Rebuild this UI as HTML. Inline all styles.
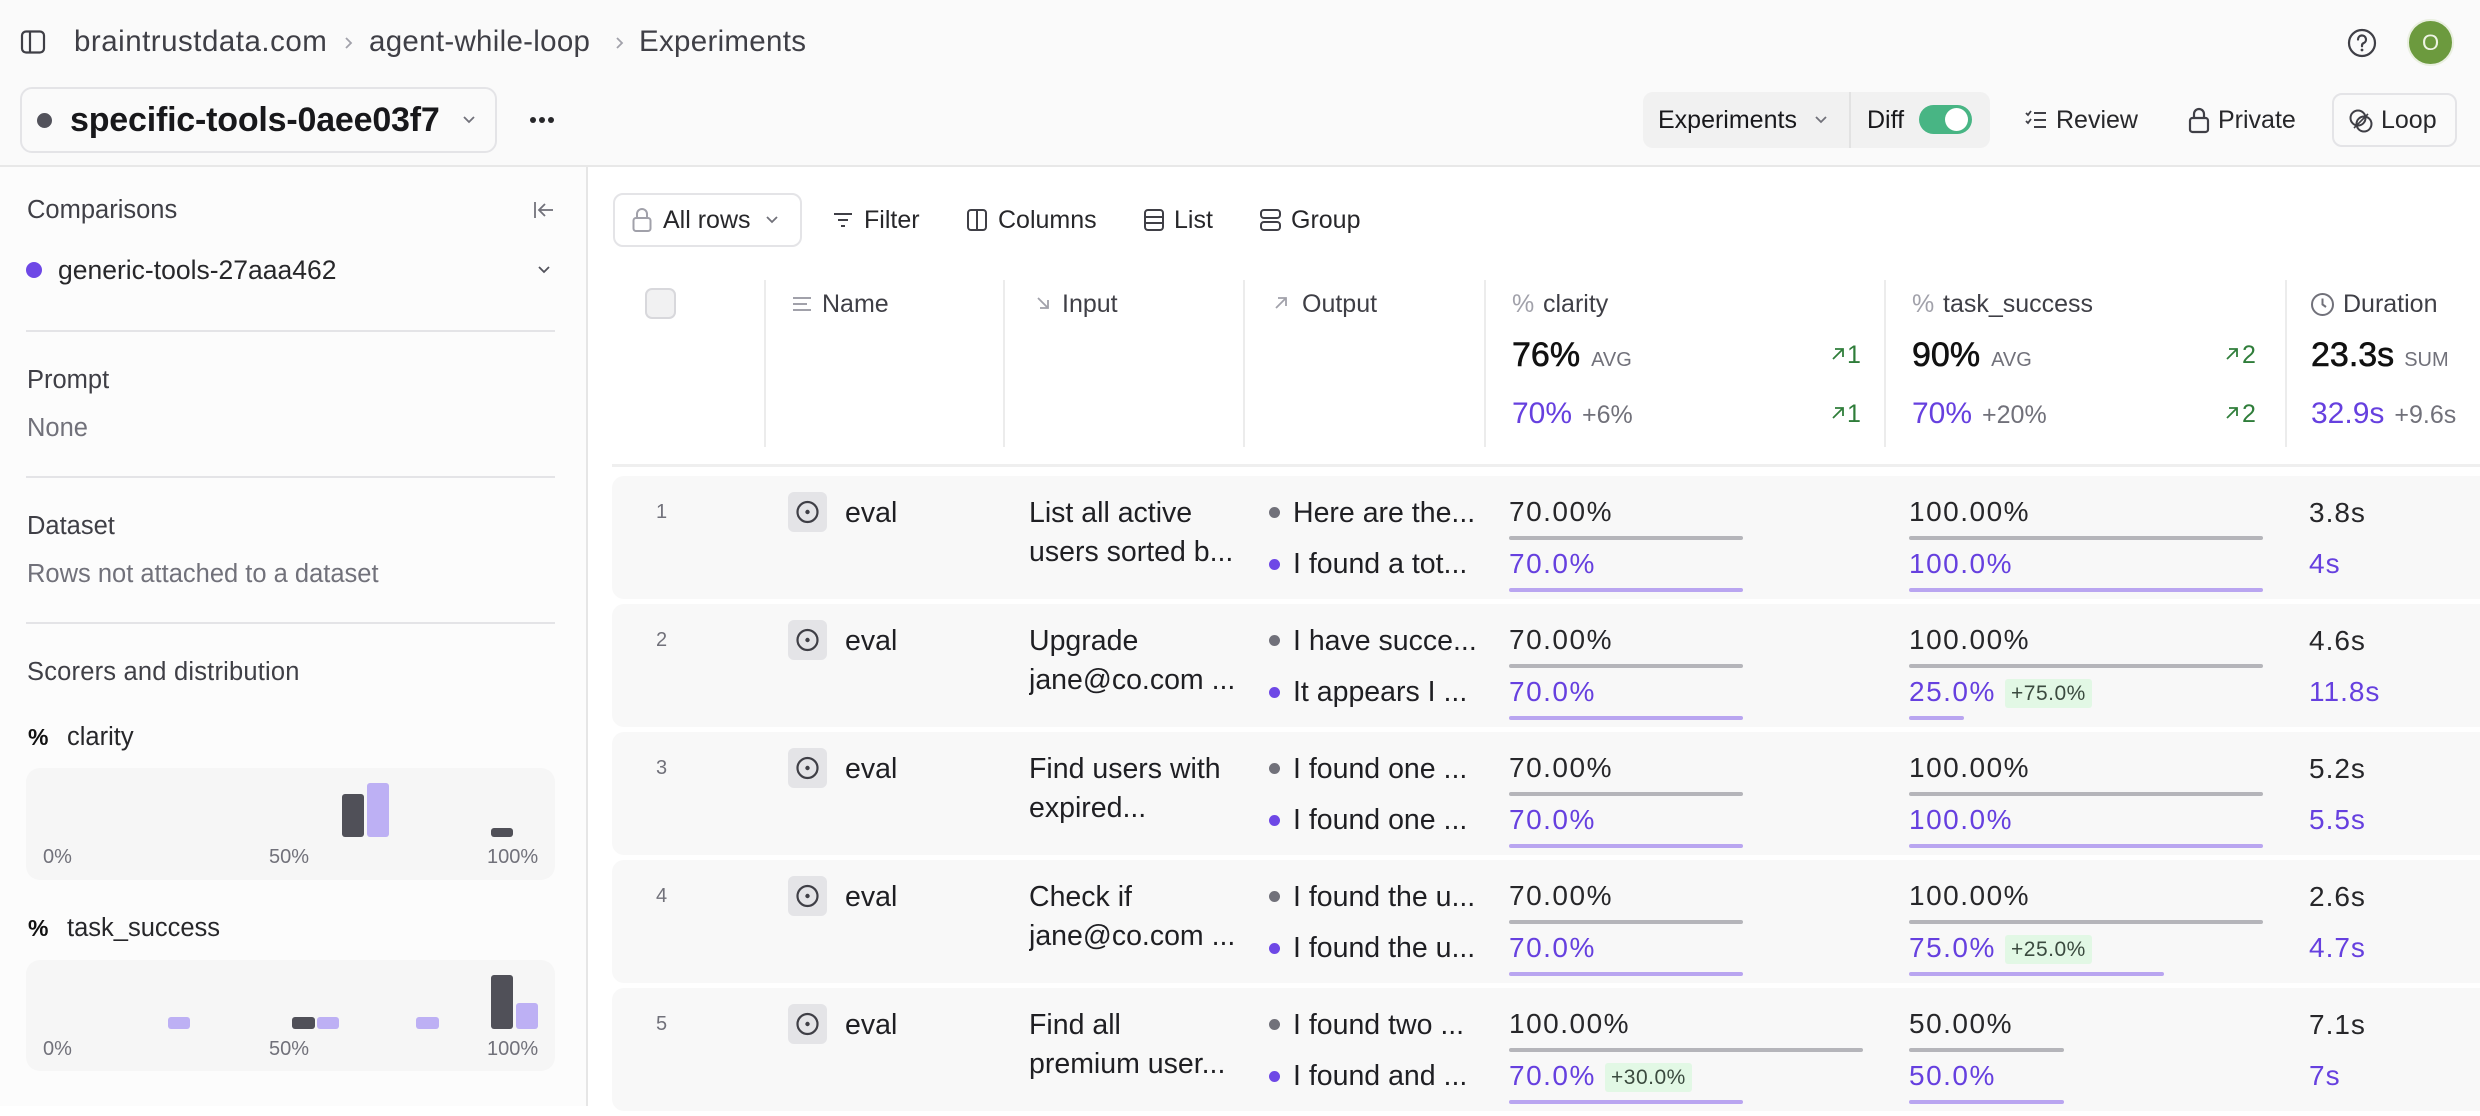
<!DOCTYPE html>
<html><head><meta charset="utf-8">
<style>
*{margin:0;padding:0;box-sizing:border-box}
html,body{width:2480px;height:1106px;overflow:hidden;background:#fff;font-family:"Liberation Sans",Arial,sans-serif;color:#27272a}
.a{position:absolute;white-space:nowrap}
.t40{line-height:40px;height:40px}
.row{position:absolute;left:0;width:2480px;height:128px}
.card{position:absolute;left:612px;top:0;width:1900px;height:123px;background:#f8f8f8;border-radius:12px}
.num{font-size:20px;color:#71717a;line-height:32px;top:20px;left:656px}
.evb{left:788px;top:16px;width:39px;height:40px;background:#e4e4e7;border-radius:6px}
.rt{font-size:28.5px;color:#1f1f23;line-height:40px}
.inp{left:1029px;width:212px;overflow:hidden}
.out{left:1293px;width:188px;overflow:hidden}
.dot{width:11px;height:11px;border-radius:50%;left:1269px}
.dg{background:#71717a}.dp{background:#6e48e6}
.sc{font-size:28px;letter-spacing:1.5px;line-height:40px;color:#27272a}
.pu{color:#6640df}
.bar{height:4px;border-radius:2px}
.bg{background:#b5b5ba}.bp{background:#b9a5f0}
.badge{height:29px;top:75px;background:#e2f8e5;color:#3b4a3f;font-size:21px;line-height:29px;padding:0 6px;border-radius:3px;letter-spacing:0.5px}
.sb{font-size:25.5px;color:#3f3f46;line-height:40px}
.sg{color:#71717a}
.hl{font-size:25px;color:#3f3f46;line-height:40px;top:284px}
.vd{position:absolute;top:280px;width:2px;height:167px;background:#ececec}
.hist{position:absolute;background:#f6f6f6;border-radius:14px}
.hb{position:absolute;border-radius:3px}
.hd{background:#505058}.hp{background:#bdb0f4}
.hx{font-size:20px;color:#71717a;line-height:28px}
.tb{font-size:25px;color:#27272a;line-height:40px;top:200px}
.bc{font-size:29.5px;color:#3f3f46;letter-spacing:0.5px}
</style></head><body>

<!-- top bar -->
<div class="a" style="left:0;top:0;width:2480px;height:166px;background:#fafafa"></div>
<div class="a" style="left:0;top:165px;width:2480px;height:2px;background:#e8e8e8"></div>

<svg class="a" style="left:20px;top:29px" width="27" height="27" viewBox="0 0 27 27"><rect x="2" y="2.5" width="22" height="21" rx="4" fill="none" stroke="#3f3f46" stroke-width="2.2"/><line x1="10" y1="3" x2="10" y2="23" stroke="#3f3f46" stroke-width="2.2"/></svg>
<div class="a t40 bc" style="left:74px;top:22px">braintrustdata.com</div>
<svg class="a" style="left:343px;top:36px" width="10" height="14" viewBox="0 0 10 14"><polyline points="3,2 8,7 3,12" fill="none" stroke="#a1a1aa" stroke-width="1.8"/></svg>
<div class="a t40 bc" style="left:369px;top:22px;letter-spacing:0.3px">agent-while-loop</div>
<svg class="a" style="left:614px;top:36px" width="10" height="14" viewBox="0 0 10 14"><polyline points="3,2 8,7 3,12" fill="none" stroke="#a1a1aa" stroke-width="1.8"/></svg>
<div class="a t40 bc" style="left:639px;top:22px;letter-spacing:0.3px">Experiments</div>

<svg class="a" style="left:2346px;top:27px" width="32" height="32" viewBox="0 0 32 32"><circle cx="16" cy="16" r="13" fill="none" stroke="#3f3f46" stroke-width="2.2"/><path d="M12 12.5a4 4 0 1 1 5.5 3.7c-1 .4-1.5 1.2-1.5 2.3v.8" fill="none" stroke="#3f3f46" stroke-width="2.2" stroke-linecap="round"/><circle cx="16" cy="23" r="1.4" fill="#3f3f46"/></svg>
<div class="a" style="left:2407px;top:19px;width:47px;height:47px;border-radius:50%;background:#6c9a3e;border:2px solid #e9efe0;color:#eef4e4;font-size:22px;line-height:43px;text-align:center">O</div>

<!-- title selector -->
<div class="a" style="left:20px;top:87px;width:477px;height:66px;border:2px solid #e4e4e7;border-radius:12px;background:#fafafa"></div>
<div class="a" style="left:37px;top:113px;width:15px;height:15px;border-radius:50%;background:#52525b"></div>
<div class="a t40" style="left:70px;top:100px;font-size:34px;font-weight:bold;color:#18181b;letter-spacing:-0.2px">specific-tools-0aee03f7</div>
<svg class="a" style="left:462px;top:114px" width="14" height="12" viewBox="0 0 14 12"><polyline points="2,3 7,8 12,3" fill="none" stroke="#71717a" stroke-width="1.8"/></svg>
<div class="a" style="left:530px;top:117px;width:6px;height:6px;border-radius:50%;background:#27272a"></div>
<div class="a" style="left:539px;top:117px;width:6px;height:6px;border-radius:50%;background:#27272a"></div>
<div class="a" style="left:548px;top:117px;width:6px;height:6px;border-radius:50%;background:#27272a"></div>

<!-- right controls -->
<div class="a" style="left:1643px;top:92px;width:347px;height:56px;background:#f1f1f1;border-radius:10px"></div>
<div class="a" style="left:1849px;top:92px;width:2px;height:56px;background:#e2e2e2"></div>
<div class="a t40" style="left:1658px;top:100px;font-size:25px;color:#18181b">Experiments</div>
<svg class="a" style="left:1814px;top:114px" width="14" height="12" viewBox="0 0 14 12"><polyline points="2,3 7,8 12,3" fill="none" stroke="#71717a" stroke-width="1.8"/></svg>
<div class="a t40" style="left:1867px;top:100px;font-size:25px;color:#18181b">Diff</div>
<div class="a" style="left:1919px;top:105px;width:53px;height:29px;border-radius:15px;background:#48b584"></div>
<div class="a" style="left:1945px;top:108px;width:23px;height:23px;border-radius:50%;background:#fff"></div>
<svg class="a" style="left:2024px;top:108px" width="24" height="24" viewBox="0 0 24 24"><polyline points="2,5 4,7 7,3" fill="none" stroke="#3f3f46" stroke-width="1.8"/><polyline points="2,13 4,15 7,11" fill="none" stroke="#3f3f46" stroke-width="1.8"/><line x1="10" y1="5" x2="22" y2="5" stroke="#3f3f46" stroke-width="2"/><line x1="10" y1="12" x2="22" y2="12" stroke="#3f3f46" stroke-width="2"/><line x1="10" y1="19" x2="22" y2="19" stroke="#3f3f46" stroke-width="2"/></svg>
<div class="a t40" style="left:2056px;top:100px;font-size:25px;color:#27272a">Review</div>
<svg class="a" style="left:2187px;top:106px" width="24" height="28" viewBox="0 0 24 28"><rect x="3" y="12" width="18" height="14" rx="2.5" fill="none" stroke="#3f3f46" stroke-width="2.2"/><path d="M7 12V8a5 5 0 0 1 10 0v4" fill="none" stroke="#3f3f46" stroke-width="2.2"/></svg>
<div class="a t40" style="left:2218px;top:100px;font-size:25px;color:#27272a">Private</div>
<div class="a" style="left:2332px;top:93px;width:125px;height:54px;border:2px solid #e4e4e7;border-radius:10px;background:#fafafa"></div>
<svg class="a" style="left:2348px;top:108px" width="26" height="26" viewBox="0 0 26 26"><circle cx="10" cy="10" r="7.5" fill="none" stroke="#3f3f46" stroke-width="2"/><circle cx="16" cy="16" r="7.5" fill="none" stroke="#3f3f46" stroke-width="2"/><line x1="6" y1="20" x2="20" y2="6" stroke="#3f3f46" stroke-width="1.6"/></svg>
<div class="a t40" style="left:2381px;top:100px;font-size:25px;color:#27272a">Loop</div>

<!-- sidebar -->
<div class="a" style="left:0;top:167px;width:586px;height:939px;background:#fcfcfc"></div>
<div class="a" style="left:586px;top:167px;width:2px;height:939px;background:#e6e6e6"></div>
<div class="a sb" style="left:27px;top:190px">Comparisons</div>
<svg class="a" style="left:533px;top:200px" width="22" height="20" viewBox="0 0 22 20"><line x1="2" y1="2" x2="2" y2="18" stroke="#71717a" stroke-width="1.8"/><line x1="7" y1="10" x2="20" y2="10" stroke="#71717a" stroke-width="1.8"/><polyline points="12,4 6,10 12,16" fill="none" stroke="#71717a" stroke-width="1.8"/></svg>
<div class="a" style="left:26px;top:262px;width:16px;height:16px;border-radius:50%;background:#6e48e6"></div>
<div class="a sb" style="left:58px;top:250px;color:#27272a;font-size:26.5px">generic-tools-27aaa462</div>
<svg class="a" style="left:537px;top:264px" width="14" height="12" viewBox="0 0 14 12"><polyline points="2,3 7,8 12,3" fill="none" stroke="#52525b" stroke-width="1.8"/></svg>
<div class="a" style="left:26px;top:330px;width:529px;height:2px;background:#e4e4e7"></div>
<div class="a sb" style="left:27px;top:360px">Prompt</div>
<div class="a sb sg" style="left:27px;top:408px">None</div>
<div class="a" style="left:26px;top:476px;width:529px;height:2px;background:#e4e4e7"></div>
<div class="a sb" style="left:27px;top:506px">Dataset</div>
<div class="a sb sg" style="left:27px;top:554px">Rows not attached to a dataset</div>
<div class="a" style="left:26px;top:622px;width:529px;height:2px;background:#e4e4e7"></div>
<div class="a sb" style="left:27px;top:652px;letter-spacing:0.2px">Scorers and distribution</div>

<div class="a sb" style="left:28px;top:717px;color:#111;font-weight:bold;font-size:23px">%</div>
<div class="a sb" style="left:67px;top:717px;color:#27272a">clarity</div>
<div class="hist" style="left:26px;top:768px;width:529px;height:112px"></div>
<div class="hb hd" style="left:342px;top:794px;width:22px;height:43px"></div>
<div class="hb hp" style="left:367px;top:783px;width:22px;height:54px"></div>
<div class="hb hd" style="left:491px;top:828px;width:22px;height:9px"></div>
<div class="a hx" style="left:43px;top:843px">0%</div>
<div class="a hx" style="left:269px;top:843px">50%</div>
<div class="a hx" style="left:487px;top:843px">100%</div>

<div class="a sb" style="left:28px;top:908px;color:#111;font-weight:bold;font-size:23px">%</div>
<div class="a sb" style="left:67px;top:908px;color:#27272a">task_success</div>
<div class="hist" style="left:26px;top:960px;width:529px;height:111px"></div>
<div class="hb hp" style="left:168px;top:1017px;width:22px;height:12px"></div>
<div class="hb hd" style="left:292px;top:1017px;width:23px;height:12px"></div>
<div class="hb hp" style="left:317px;top:1017px;width:22px;height:12px"></div>
<div class="hb hp" style="left:416px;top:1017px;width:23px;height:12px"></div>
<div class="hb hd" style="left:491px;top:975px;width:22px;height:54px"></div>
<div class="hb hp" style="left:516px;top:1003px;width:22px;height:26px"></div>
<div class="a hx" style="left:43px;top:1035px">0%</div>
<div class="a hx" style="left:269px;top:1035px">50%</div>
<div class="a hx" style="left:487px;top:1035px">100%</div>

<!-- toolbar -->
<div class="a" style="left:613px;top:193px;width:189px;height:54px;border:2px solid #e4e4e7;border-radius:10px;background:#fff"></div>
<svg class="a" style="left:631px;top:206px" width="22" height="28" viewBox="0 0 22 28"><rect x="2.5" y="12" width="17" height="13" rx="2.5" fill="none" stroke="#a1a1aa" stroke-width="2"/><path d="M6 12V8a5 5 0 0 1 10 0v4" fill="none" stroke="#a1a1aa" stroke-width="2"/></svg>
<div class="a tb" style="left:663px">All rows</div>
<svg class="a" style="left:765px;top:214px" width="14" height="12" viewBox="0 0 14 12"><polyline points="2,3 7,8 12,3" fill="none" stroke="#71717a" stroke-width="1.8"/></svg>
<svg class="a" style="left:832px;top:210px" width="22" height="20" viewBox="0 0 22 20"><line x1="2" y1="4" x2="20" y2="4" stroke="#3f3f46" stroke-width="2"/><line x1="6" y1="10" x2="16" y2="10" stroke="#3f3f46" stroke-width="2"/><line x1="9" y1="16" x2="13" y2="16" stroke="#3f3f46" stroke-width="2"/></svg>
<div class="a tb" style="left:864px">Filter</div>
<svg class="a" style="left:966px;top:208px" width="22" height="24" viewBox="0 0 22 24"><rect x="2" y="2" width="18" height="20" rx="3" fill="none" stroke="#3f3f46" stroke-width="2"/><line x1="11" y1="2" x2="11" y2="22" stroke="#3f3f46" stroke-width="2"/></svg>
<div class="a tb" style="left:998px">Columns</div>
<svg class="a" style="left:1143px;top:208px" width="22" height="24" viewBox="0 0 22 24"><rect x="2" y="2" width="18" height="20" rx="3" fill="none" stroke="#3f3f46" stroke-width="2"/><line x1="2" y1="9" x2="20" y2="9" stroke="#3f3f46" stroke-width="2"/><line x1="2" y1="15" x2="20" y2="15" stroke="#3f3f46" stroke-width="2"/></svg>
<div class="a tb" style="left:1174px">List</div>
<svg class="a" style="left:1259px;top:208px" width="23" height="24" viewBox="0 0 23 24"><rect x="2" y="2" width="19" height="8" rx="3" fill="none" stroke="#3f3f46" stroke-width="2"/><rect x="2" y="14" width="19" height="8" rx="3" fill="none" stroke="#3f3f46" stroke-width="2"/></svg>
<div class="a tb" style="left:1291px">Group</div>

<!-- table header -->
<div class="a" style="left:645px;top:288px;width:31px;height:31px;border-radius:7px;background:#f1f1f2;border:2px solid #d8d8dc"></div>
<div class="vd" style="left:764px"></div>
<div class="vd" style="left:1003px"></div>
<div class="vd" style="left:1243px"></div>
<div class="vd" style="left:1484px"></div>
<div class="vd" style="left:1884px"></div>
<div class="vd" style="left:2285px"></div>
<svg class="a" style="left:791px;top:294px" width="22" height="20" viewBox="0 0 22 20"><line x1="2" y1="4" x2="20" y2="4" stroke="#a1a1aa" stroke-width="2"/><line x1="2" y1="10" x2="16" y2="10" stroke="#a1a1aa" stroke-width="2"/><line x1="2" y1="16" x2="20" y2="16" stroke="#a1a1aa" stroke-width="2"/></svg>
<div class="a hl" style="left:822px">Name</div>
<svg class="a" style="left:1035px;top:295px" width="16" height="16" viewBox="0 0 16 16"><line x1="3" y1="3" x2="13" y2="13" stroke="#a1a1aa" stroke-width="1.8"/><polyline points="13,5 13,13 5,13" fill="none" stroke="#a1a1aa" stroke-width="1.8"/></svg>
<div class="a hl" style="left:1062px">Input</div>
<svg class="a" style="left:1273px;top:295px" width="16" height="16" viewBox="0 0 16 16"><line x1="3" y1="13" x2="13" y2="3" stroke="#a1a1aa" stroke-width="1.8"/><polyline points="5,3 13,3 13,11" fill="none" stroke="#a1a1aa" stroke-width="1.8"/></svg>
<div class="a hl" style="left:1302px">Output</div>

<div class="a hl" style="left:1512px;color:#a1a1aa">%</div>
<div class="a hl" style="left:1543px">clarity</div>
<div class="a t40" style="left:1512px;top:335px"><span style="font-size:34px;color:#111;-webkit-text-stroke:0.6px #111">76%</span><span style="font-size:20px;color:#71717a;margin-left:11px">AVG</span></div>
<svg class="a" style="left:1831px;top:347px" width="14" height="14" viewBox="0 0 14 14"><line x1="2" y1="12" x2="12" y2="2" stroke="#2f7d3a" stroke-width="1.8"/><polyline points="4,2 12,2 12,10" fill="none" stroke="#2f7d3a" stroke-width="1.8"/></svg>
<div class="a t40" style="left:1847px;top:335px;font-size:25px;color:#2f7d3a">1</div>
<div class="a t40" style="left:1512px;top:394px"><span style="font-size:30px;color:#6640df">70%</span><span style="font-size:25px;color:#71717a;margin-left:10px">+6%</span></div>
<svg class="a" style="left:1831px;top:406px" width="14" height="14" viewBox="0 0 14 14"><line x1="2" y1="12" x2="12" y2="2" stroke="#2f7d3a" stroke-width="1.8"/><polyline points="4,2 12,2 12,10" fill="none" stroke="#2f7d3a" stroke-width="1.8"/></svg>
<div class="a t40" style="left:1847px;top:394px;font-size:25px;color:#2f7d3a">1</div>

<div class="a hl" style="left:1912px;color:#a1a1aa">%</div>
<div class="a hl" style="left:1943px">task_success</div>
<div class="a t40" style="left:1912px;top:335px"><span style="font-size:34px;color:#111;-webkit-text-stroke:0.6px #111">90%</span><span style="font-size:20px;color:#71717a;margin-left:11px">AVG</span></div>
<svg class="a" style="left:2225px;top:347px" width="14" height="14" viewBox="0 0 14 14"><line x1="2" y1="12" x2="12" y2="2" stroke="#2f7d3a" stroke-width="1.8"/><polyline points="4,2 12,2 12,10" fill="none" stroke="#2f7d3a" stroke-width="1.8"/></svg>
<div class="a t40" style="left:2242px;top:335px;font-size:25px;color:#2f7d3a">2</div>
<div class="a t40" style="left:1912px;top:394px"><span style="font-size:30px;color:#6640df">70%</span><span style="font-size:25px;color:#71717a;margin-left:10px">+20%</span></div>
<svg class="a" style="left:2225px;top:406px" width="14" height="14" viewBox="0 0 14 14"><line x1="2" y1="12" x2="12" y2="2" stroke="#2f7d3a" stroke-width="1.8"/><polyline points="4,2 12,2 12,10" fill="none" stroke="#2f7d3a" stroke-width="1.8"/></svg>
<div class="a t40" style="left:2242px;top:394px;font-size:25px;color:#2f7d3a">2</div>

<svg class="a" style="left:2310px;top:292px" width="25" height="25" viewBox="0 0 25 25"><circle cx="12.5" cy="12.5" r="10.5" fill="none" stroke="#71717a" stroke-width="2"/><polyline points="12.5,6.5 12.5,12.5 16,15" fill="none" stroke="#71717a" stroke-width="2"/></svg>
<div class="a hl" style="left:2343px">Duration</div>
<div class="a t40" style="left:2311px;top:335px"><span style="font-size:34px;color:#111;-webkit-text-stroke:0.6px #111">23.3s</span><span style="font-size:20px;color:#71717a;margin-left:10px">SUM</span></div>
<div class="a t40" style="left:2311px;top:394px"><span style="font-size:30px;color:#6640df">32.9s</span><span style="font-size:25px;color:#71717a;margin-left:10px">+9.6s</span></div>

<div class="a" style="left:612px;top:464px;width:1868px;height:3px;background:#efefef"></div>

<!-- rows -->
<div class="row" style="top:476px">
<div class="card"></div>
<div class="a num">1</div>
<div class="a evb"><svg width="39" height="40" viewBox="0 0 39 40"><circle cx="19.5" cy="20" r="10" fill="none" stroke="#3f3f46" stroke-width="2.2"/><circle cx="19.5" cy="20" r="2.2" fill="#3f3f46"/></svg></div>
<div class="a rt" style="left:845px;top:17px">eval</div>
<div class="a rt inp" style="top:17px">List all active</div>
<div class="a rt inp" style="top:56px">users sorted b...</div>
<div class="a dot dg" style="top:31px"></div>
<div class="a rt out" style="top:17px">Here are the...</div>
<div class="a dot dp" style="top:83px"></div>
<div class="a rt out" style="top:68px">I found a tot...</div>
<div class="a sc" style="left:1509px;top:16px">70.00%</div>
<div class="a bar bg" style="left:1509px;top:60px;width:234px"></div>
<div class="a sc pu" style="left:1509px;top:68px">70.0%</div>
<div class="a bar bp" style="left:1509px;top:112px;width:234px"></div>
<div class="a sc" style="left:1909px;top:16px">100.00%</div>
<div class="a bar bg" style="left:1909px;top:60px;width:354px"></div>
<div class="a sc pu" style="left:1909px;top:68px">100.0%</div>
<div class="a bar bp" style="left:1909px;top:112px;width:354px"></div>
<div class="a sc" style="left:2309px;top:17px;letter-spacing:1px">3.8s</div>
<div class="a sc pu" style="left:2309px;top:68px;letter-spacing:1px">4s</div>
</div>

<div class="row" style="top:604px">
<div class="card"></div>
<div class="a num">2</div>
<div class="a evb"><svg width="39" height="40" viewBox="0 0 39 40"><circle cx="19.5" cy="20" r="10" fill="none" stroke="#3f3f46" stroke-width="2.2"/><circle cx="19.5" cy="20" r="2.2" fill="#3f3f46"/></svg></div>
<div class="a rt" style="left:845px;top:17px">eval</div>
<div class="a rt inp" style="top:17px">Upgrade</div>
<div class="a rt inp" style="top:56px">jane@co.com ...</div>
<div class="a dot dg" style="top:31px"></div>
<div class="a rt out" style="top:17px">I have succe...</div>
<div class="a dot dp" style="top:83px"></div>
<div class="a rt out" style="top:68px">It appears I ...</div>
<div class="a sc" style="left:1509px;top:16px">70.00%</div>
<div class="a bar bg" style="left:1509px;top:60px;width:234px"></div>
<div class="a sc pu" style="left:1509px;top:68px">70.0%</div>
<div class="a bar bp" style="left:1509px;top:112px;width:234px"></div>
<div class="a sc" style="left:1909px;top:16px">100.00%</div>
<div class="a bar bg" style="left:1909px;top:60px;width:354px"></div>
<div class="a sc pu" style="left:1909px;top:68px">25.0%</div>
<div class="a badge" style="left:2005px">+75.0%</div>
<div class="a bar bp" style="left:1909px;top:112px;width:55px"></div>
<div class="a sc" style="left:2309px;top:17px;letter-spacing:1px">4.6s</div>
<div class="a sc pu" style="left:2309px;top:68px;letter-spacing:1px">11.8s</div>
</div>

<div class="row" style="top:732px">
<div class="card"></div>
<div class="a num">3</div>
<div class="a evb"><svg width="39" height="40" viewBox="0 0 39 40"><circle cx="19.5" cy="20" r="10" fill="none" stroke="#3f3f46" stroke-width="2.2"/><circle cx="19.5" cy="20" r="2.2" fill="#3f3f46"/></svg></div>
<div class="a rt" style="left:845px;top:17px">eval</div>
<div class="a rt inp" style="top:17px">Find users with</div>
<div class="a rt inp" style="top:56px">expired...</div>
<div class="a dot dg" style="top:31px"></div>
<div class="a rt out" style="top:17px">I found one ...</div>
<div class="a dot dp" style="top:83px"></div>
<div class="a rt out" style="top:68px">I found one ...</div>
<div class="a sc" style="left:1509px;top:16px">70.00%</div>
<div class="a bar bg" style="left:1509px;top:60px;width:234px"></div>
<div class="a sc pu" style="left:1509px;top:68px">70.0%</div>
<div class="a bar bp" style="left:1509px;top:112px;width:234px"></div>
<div class="a sc" style="left:1909px;top:16px">100.00%</div>
<div class="a bar bg" style="left:1909px;top:60px;width:354px"></div>
<div class="a sc pu" style="left:1909px;top:68px">100.0%</div>
<div class="a bar bp" style="left:1909px;top:112px;width:354px"></div>
<div class="a sc" style="left:2309px;top:17px;letter-spacing:1px">5.2s</div>
<div class="a sc pu" style="left:2309px;top:68px;letter-spacing:1px">5.5s</div>
</div>

<div class="row" style="top:860px">
<div class="card"></div>
<div class="a num">4</div>
<div class="a evb"><svg width="39" height="40" viewBox="0 0 39 40"><circle cx="19.5" cy="20" r="10" fill="none" stroke="#3f3f46" stroke-width="2.2"/><circle cx="19.5" cy="20" r="2.2" fill="#3f3f46"/></svg></div>
<div class="a rt" style="left:845px;top:17px">eval</div>
<div class="a rt inp" style="top:17px">Check if</div>
<div class="a rt inp" style="top:56px">jane@co.com ...</div>
<div class="a dot dg" style="top:31px"></div>
<div class="a rt out" style="top:17px">I found the u...</div>
<div class="a dot dp" style="top:83px"></div>
<div class="a rt out" style="top:68px">I found the u...</div>
<div class="a sc" style="left:1509px;top:16px">70.00%</div>
<div class="a bar bg" style="left:1509px;top:60px;width:234px"></div>
<div class="a sc pu" style="left:1509px;top:68px">70.0%</div>
<div class="a bar bp" style="left:1509px;top:112px;width:234px"></div>
<div class="a sc" style="left:1909px;top:16px">100.00%</div>
<div class="a bar bg" style="left:1909px;top:60px;width:354px"></div>
<div class="a sc pu" style="left:1909px;top:68px">75.0%</div>
<div class="a badge" style="left:2005px">+25.0%</div>
<div class="a bar bp" style="left:1909px;top:112px;width:255px"></div>
<div class="a sc" style="left:2309px;top:17px;letter-spacing:1px">2.6s</div>
<div class="a sc pu" style="left:2309px;top:68px;letter-spacing:1px">4.7s</div>
</div>

<div class="row" style="top:988px">
<div class="card"></div>
<div class="a num">5</div>
<div class="a evb"><svg width="39" height="40" viewBox="0 0 39 40"><circle cx="19.5" cy="20" r="10" fill="none" stroke="#3f3f46" stroke-width="2.2"/><circle cx="19.5" cy="20" r="2.2" fill="#3f3f46"/></svg></div>
<div class="a rt" style="left:845px;top:17px">eval</div>
<div class="a rt inp" style="top:17px">Find all</div>
<div class="a rt inp" style="top:56px">premium user...</div>
<div class="a dot dg" style="top:31px"></div>
<div class="a rt out" style="top:17px">I found two ...</div>
<div class="a dot dp" style="top:83px"></div>
<div class="a rt out" style="top:68px">I found and ...</div>
<div class="a sc" style="left:1509px;top:16px">100.00%</div>
<div class="a bar bg" style="left:1509px;top:60px;width:354px"></div>
<div class="a sc pu" style="left:1509px;top:68px">70.0%</div>
<div class="a badge" style="left:1605px">+30.0%</div>
<div class="a bar bp" style="left:1509px;top:112px;width:234px"></div>
<div class="a sc" style="left:1909px;top:16px">50.00%</div>
<div class="a bar bg" style="left:1909px;top:60px;width:155px"></div>
<div class="a sc pu" style="left:1909px;top:68px">50.0%</div>
<div class="a bar bp" style="left:1909px;top:112px;width:155px"></div>
<div class="a sc" style="left:2309px;top:17px;letter-spacing:1px">7.1s</div>
<div class="a sc pu" style="left:2309px;top:68px;letter-spacing:1px">7s</div>
</div>

</body></html>
